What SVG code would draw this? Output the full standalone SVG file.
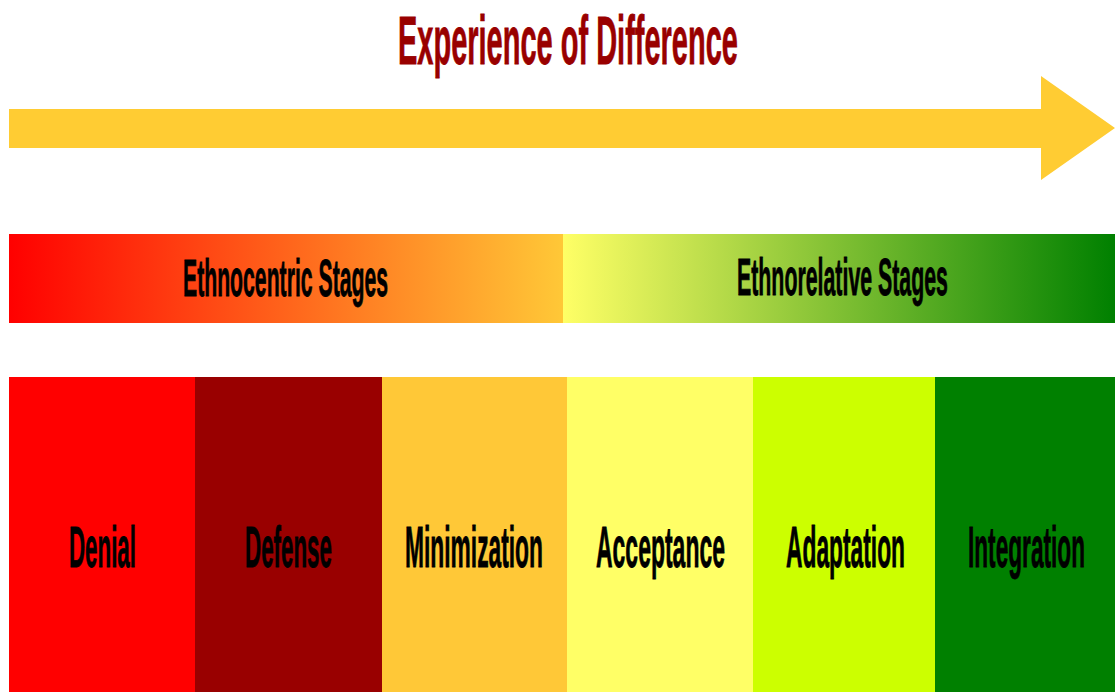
<svg xmlns="http://www.w3.org/2000/svg" width="1115" height="692" viewBox="0 0 1115 692">
  <defs>
    <linearGradient id="gradCentric" x1="0" y1="0" x2="1" y2="0">
      <stop offset="0" stop-color="#FF0000"/>
      <stop offset="1" stop-color="#FFC837"/>
    </linearGradient>
    <linearGradient id="gradRelative" x1="0" y1="0" x2="1" y2="0">
      <stop offset="0" stop-color="#FFFF66"/>
      <stop offset="1" stop-color="#008000"/>
    </linearGradient>
  </defs>
  <style>
    .lbl { font-family: "Liberation Sans", Arial, sans-serif; font-weight: bold; fill: #000000; stroke: #000000; stroke-width: 0.8; }
    .big { font-size: 58px; }
    .mid { font-size: 52px; }
    .title { font-family: "Liberation Sans", Arial, sans-serif; font-weight: bold; font-size: 68px; fill: #990000; stroke: #990000; stroke-width: 0.8; }
  </style>
  <rect width="1115" height="692" fill="#FFFFFF"/>

  <g id="title">
    <text class="title" transform="translate(398,64) scale(0.426,1)" x="0" y="0" textLength="798" lengthAdjust="spacingAndGlyphs">Experience of Difference</text>
  </g>

  <g id="arrow">
    <polygon points="9,109 1041,109 1041,76 1115,128 1041,180 1041,148 9,148" fill="#FFCC33"/>
  </g>

  <g id="ethnocentric">
    <rect x="9" y="234" width="554" height="89" fill="url(#gradCentric)"/>
    <text class="lbl mid" transform="translate(183,296) scale(0.408,1)" x="0" y="0" textLength="502.5" lengthAdjust="spacingAndGlyphs">Ethnocentric Stages</text>
  </g>
  <g id="ethnorelative">
    <rect x="563" y="234" width="552" height="89" fill="url(#gradRelative)"/>
    <text class="lbl mid" transform="translate(737,295) scale(0.41,1)" x="0" y="0" textLength="514.6" lengthAdjust="spacingAndGlyphs">Ethnorelative Stages</text>
  </g>

  <g id="denial">
    <rect x="9" y="377" width="186" height="315" fill="#FF0000"/>
    <text class="lbl big" transform="translate(69,567) scale(0.385,1)" x="0" y="0" textLength="174" lengthAdjust="spacingAndGlyphs">Denial</text>
  </g>
  <g id="defense">
    <rect x="195" y="377" width="187" height="315" fill="#990000"/>
    <text class="lbl big" transform="translate(245,567) scale(0.3856,1)" x="0" y="0" textLength="225.6" lengthAdjust="spacingAndGlyphs">Defense</text>
  </g>
  <g id="minimization">
    <rect x="382" y="377" width="185" height="315" fill="#FFC837"/>
    <text class="lbl big" transform="translate(405,567) scale(0.393,1)" x="0" y="0" textLength="351" lengthAdjust="spacingAndGlyphs">Minimization</text>
  </g>
  <g id="acceptance">
    <rect x="567" y="377" width="186" height="315" fill="#FFFF66"/>
    <text class="lbl big" transform="translate(596,567) scale(0.396,1)" x="0" y="0" textLength="325.7" lengthAdjust="spacingAndGlyphs">Acceptance</text>
  </g>
  <g id="adaptation">
    <rect x="753" y="377" width="182" height="315" fill="#CCFF00"/>
    <text class="lbl big" transform="translate(786,567) scale(0.393,1)" x="0" y="0" textLength="302.8" lengthAdjust="spacingAndGlyphs">Adaptation</text>
  </g>
  <g id="integration">
    <rect x="935" y="377" width="180" height="315" fill="#008000"/>
    <text class="lbl big" transform="translate(968,567) scale(0.39,1)" x="0" y="0" textLength="300" lengthAdjust="spacingAndGlyphs">Integration</text>
  </g>

  <g id="connectors"/>
</svg>
